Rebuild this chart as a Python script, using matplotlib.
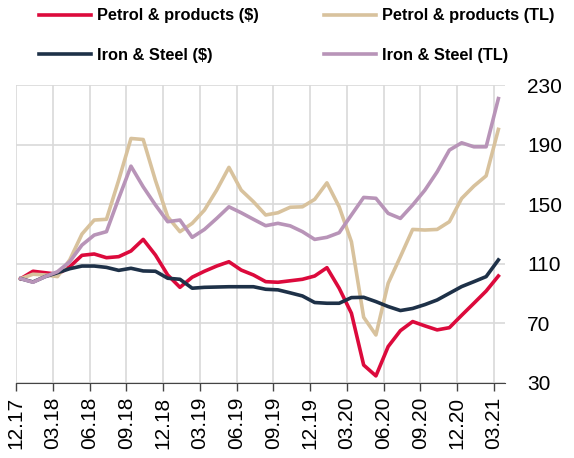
import numpy as np
import matplotlib
matplotlib.use('Agg')
import matplotlib.pyplot as plt

plt.rcParams['font.family'] = ['Liberation Sans', 'DejaVu Sans']

# monthly index, 12.17 = 100
months = np.arange(40)
tick_labels = ['12.17', '03.18', '06.18', '09.18', '12.18', '03.19', '06.19',
               '09.19', '12.19', '03.20', '06.20', '09.20', '12.20', '03.21']

petrol_usd = [100, 105, 104, 103, 108, 115.7, 116.6, 114.1, 114.8, 118.6,
              126.4, 115.9, 102.5, 94.2, 101, 105, 108.5, 111.4, 105.8, 102.5,
              98, 97.6, 98.6, 99.6, 101.8, 107.4, 93.6, 76.8, 42, 34.7,
              54.4, 65.1, 71.2, 68.3, 65.6, 67.1, 75.4, 83.5, 91.7, 101.8]
iron_usd = [100, 97.8, 101.4, 104, 106.7, 108.5, 108.5, 107.6, 105.6, 107,
            105.2, 105, 100.3, 99.6, 93.6, 94.2, 94.4, 94.6, 94.6, 94.6,
            92.9, 92.5, 90.5, 88.4, 84, 83.5, 83.5, 87.3, 87.5, 84.6,
            81.3, 78.6, 80, 82.6, 85.7, 90.2, 94.7, 98, 101.4, 112.6]
petrol_tl = [100, 103, 102.5, 101.4, 112.6, 130, 139.4, 139.9, 166.2, 194.2,
             193.5, 166, 141.6, 131.6, 137.2, 146.1, 159.5, 174.8, 159.5, 151.7,
             142.8, 144.3, 148, 148.3, 153.3, 164.4, 148.3, 124.8, 74.1, 62.2,
             96.9, 114.8, 133.1, 132.7, 133.1, 138.3, 153.9, 162.2, 169.1, 200.3]
iron_tl = [100, 97.6, 101.4, 104.7, 111.4, 122.6, 129.3, 131.6, 154, 175.6,
           161.7, 149.5, 138.3, 139.4, 127.8, 133.1, 140.5, 148.3, 144.3, 139.9,
           135.6, 137.2, 135.5, 131.6, 126.4, 127.8, 130.9, 142.8, 154.6, 154,
           143.9, 140.5, 149.5, 159.5, 171.8, 186.4, 191.3, 188.6, 188.6, 221]

fig = plt.figure(figsize=(5.74, 4.58), dpi=100)
ax = fig.add_axes([0.028, 0.164, 0.852, 0.650])

off = 0.38  # ticks sit a bit left of the points
lw = 2.6
l1, = ax.plot(months, petrol_usd, color='#DC0A3C', lw=lw, label='Petrol & products ($)')
l3, = ax.plot(months, petrol_tl, color='#D8C29D', lw=lw, label='Petrol & products (TL)')
l2, = ax.plot(months, iron_usd, color='#1E3148', lw=lw, label='Iron & Steel ($)')
l4, = ax.plot(months, iron_tl, color='#B894B8', lw=lw, label='Iron & Steel (TL)')

ax.set_xlim(-off, 39.55)
ax.set_ylim(30, 230)
ax.set_xticks(np.arange(0, 40, 3) - off)
ax.set_xticklabels(tick_labels, rotation=90, fontsize=15)
ax.set_yticks([30, 70, 110, 150, 190, 230])
ax.yaxis.tick_right()
ax.tick_params(axis='y', length=0, labelsize=15, pad=16)
ax.tick_params(axis='x', length=6, width=1, color='#444444', direction='out', pad=4)

ax.grid(True, color='#D9D9D9', lw=1.2)
ax.set_axisbelow(True)
for s in ['top', 'left', 'right']:
    ax.spines[s].set_visible(False)
ax.spines['bottom'].set_color('#444444')

# legend: two columns placed by hand
legend_kw = dict(loc='upper left', frameon=False, handlelength=3.15,
                 handletextpad=0.4, labelspacing=1.5, borderpad=0,
                 borderaxespad=0, prop={'weight': 'bold', 'size': 11.8})
leg1 = fig.legend(handles=[l1, l2], bbox_to_anchor=(0.068, 0.982), **legend_kw)
leg2 = fig.legend(handles=[l3, l4], bbox_to_anchor=(0.565, 0.982), **legend_kw)

fig.savefig('out.png', dpi=100)
